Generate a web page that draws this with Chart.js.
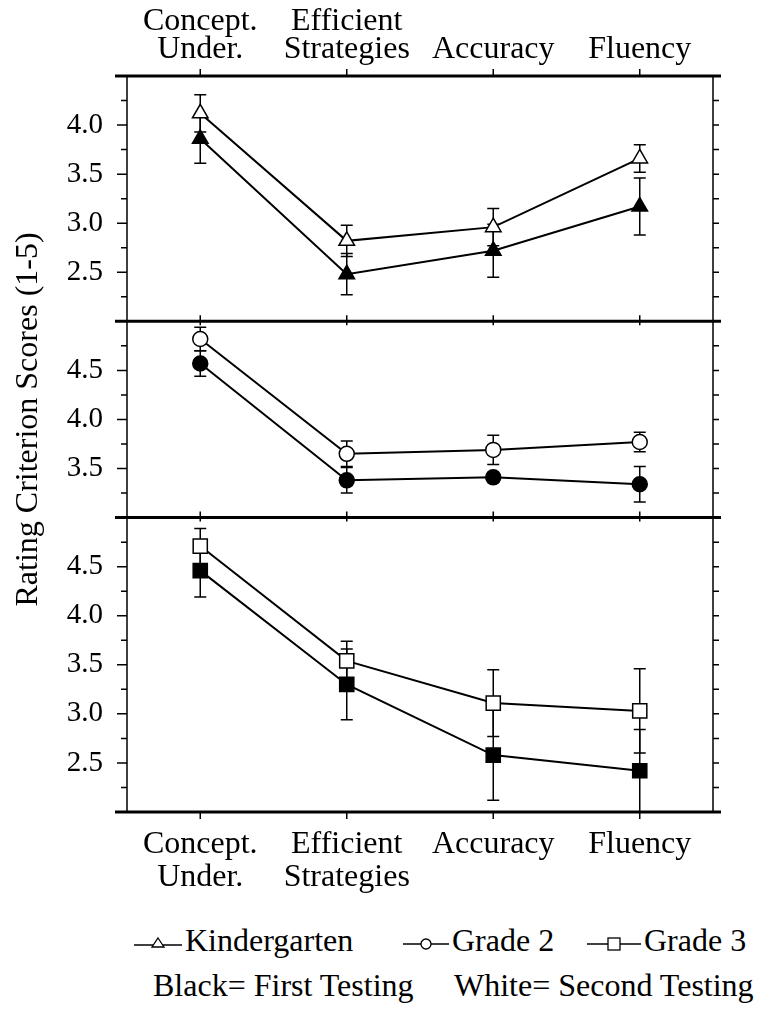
<!DOCTYPE html>
<html>
<head>
<meta charset="utf-8">
<script src="https://cdn.jsdelivr.net/npm/chart.js@4.4.0/dist/chart.umd.min.js"></script>
<style>
  html, body { margin: 0; padding: 0; background: #fff; }
  body { width: 757px; height: 1011px; position: relative; overflow: hidden; font-family: "Liberation Serif", serif; color: #000; }
  #wrap { position: absolute; left: 0; top: 0; width: 757px; height: 900px; }
  .row { position: absolute; font-size: 32px; line-height: 36px; white-space: nowrap; }
  .row svg { vertical-align: middle; margin-right: 3px; position: relative; top: -2px; }
</style>
</head>
<body>
<div id="wrap"><canvas id="scores"></canvas></div>

<div class="row" style="left:134px; top:922px;"><svg width="48" height="20"><line x1="0" y1="13" x2="48" y2="13" stroke="#000" stroke-width="1.5"/><polygon points="24,6 30,15 18,15" fill="#fff" stroke="#000" stroke-width="1.3"/></svg>Kindergarten</div>
<div class="row" style="left:403px; top:922px;"><svg width="46" height="20"><line x1="0" y1="12" x2="46" y2="12" stroke="#000" stroke-width="1.5"/><circle cx="23" cy="12" r="5" fill="#fff" stroke="#000" stroke-width="1.3"/></svg>Grade 2</div>
<div class="row" style="left:587px; top:922px;"><svg width="54" height="20"><line x1="0" y1="12" x2="54" y2="12" stroke="#000" stroke-width="1.5"/><rect x="21" y="6" width="12" height="12" fill="#fff" stroke="#000" stroke-width="1.3"/></svg>Grade 3</div>
<div class="row" style="left:153px; top:967px;">Black= First Testing</div>
<div class="row" style="left:454px; top:967px;">White= Second Testing</div>

<script>
const categories = [['Concept.', 'Under.'], ['Efficient', 'Strategies'], 'Accuracy', 'Fluency'];

// Kindergarten (triangles)
const kinderFirst = [3.86, 2.48, 2.72, 3.17];
const kinderFirstErr = [0.25, 0.21, 0.27, 0.29];
const kinderSecond = [4.12, 2.82, 2.96, 3.66];
const kinderSecondErr = [0.19, 0.16, 0.19, 0.14];

// Grade 2 (circles)
const grade2First = [4.57, 3.38, 3.41, 3.34];
const grade2FirstErr = [0.13, 0.13, 0.05, 0.18];
const grade2Second = [4.82, 3.65, 3.69, 3.77];
const grade2SecondErr = [0.12, 0.13, 0.15, 0.10];

// Grade 3 (squares)
const grade3First = [4.46, 3.30, 2.58, 2.42];
const grade3FirstErr = [0.27, 0.36, 0.46, 0.42];
const grade3Second = [4.71, 3.54, 3.11, 3.03];
const grade3SecondErr = [0.18, 0.20, 0.34, 0.43];

const panelMin = [2.0, 3.0, 2.0];
const panelMax = [4.5, 5.0, 5.0];
const tickLabels = ['2.5', '3.0', '3.5', '4.0', '4.5'];

const serif = 'Liberation Serif';

function series(data, err, yAxis, style, fill, radius) {
    return {
        data: data,
        errors: err,
        yAxisID: yAxis,
        xAxisID: 'x',
        borderColor: '#000',
        borderWidth: 2,
        pointStyle: style,
        pointRadius: radius,
        pointHoverRadius: radius,
        pointBackgroundColor: fill,
        pointBorderColor: '#000',
        pointBorderWidth: 1.5
    };
}

function yPanel(i, weight, withTitle) {
    return {
        type: 'linear',
        position: 'left',
        stack: 'panels',
        stackWeight: panelMax[i] - panelMin[i],
        weight: weight,
        min: panelMin[i],
        max: panelMax[i],
        grid: { display: false, drawTicks: false },
        border: { display: false },
        ticks: {
            stepSize: 0.25,
            autoSkip: false,
            padding: 24,
            color: '#000',
            font: { family: serif, size: 29 },
            callback: function (v) {
                const s = Number(v).toFixed(1);
                if (v <= panelMin[i] || v >= panelMax[i]) return '';
                if (Math.abs(v * 2 - Math.round(v * 2)) > 1e-6) return '';
                return tickLabels.includes(s) ? s : '';
            }
        },
        title: {
            display: withTitle,
            text: 'Rating Criterion Scores (1-5)',
            color: '#000',
            font: { family: serif, size: 32 },
            padding: { top: 9, bottom: 0 }
        },
        afterFit: function (s) { s.width = 127; }
    };
}

// symmetric error bars, drawn under the markers
const errorBars = {
    id: 'errorBars',
    beforeDatasetsDraw(chart) {
        const ctx = chart.ctx;
        ctx.save();
        ctx.strokeStyle = '#000';
        ctx.lineWidth = 1.5;
        chart.data.datasets.forEach((ds, di) => {
            const meta = chart.getDatasetMeta(di);
            const ys = chart.scales[ds.yAxisID];
            meta.data.forEach((pt, k) => {
                const e = ds.errors[k];
                const top = ys.getPixelForValue(ds.data[k] + e);
                const bot = ys.getPixelForValue(ds.data[k] - e);
                ctx.beginPath();
                ctx.moveTo(pt.x, top); ctx.lineTo(pt.x, bot);
                ctx.moveTo(pt.x - 6, top); ctx.lineTo(pt.x + 6, top);
                ctx.moveTo(pt.x - 6, bot); ctx.lineTo(pt.x + 6, bot);
                ctx.stroke();
            });
        });
        ctx.restore();
    }
};

// panel frames, tick marks on all sides
const panelFrame = {
    id: 'panelFrame',
    afterDraw(chart) {
        const ctx = chart.ctx;
        const a = chart.chartArea;
        const xs = chart.scales.x;
        const panels = ['y1', 'y2', 'y3'].map(id => chart.scales[id]);
        ctx.save();
        ctx.strokeStyle = '#000';
        ctx.lineWidth = 1.5;
        ctx.beginPath();
        ctx.moveTo(a.left, a.top); ctx.lineTo(a.left, a.bottom);
        ctx.moveTo(a.right, a.top); ctx.lineTo(a.right, a.bottom);
        ctx.stroke();

        // y ticks
        panels.forEach(s => {
            s.ticks.forEach(t => {
                if (t.value <= s.min || t.value >= s.max) return;
                const y = s.getPixelForValue(t.value);
                const major = Math.abs(t.value * 2 - Math.round(t.value * 2)) < 1e-6;
                ctx.beginPath();
                ctx.moveTo(a.left - (major ? 10 : 6), y); ctx.lineTo(a.left, y);
                ctx.moveTo(a.right, y); ctx.lineTo(a.right + 6, y);
                ctx.stroke();
            });
        });

        // x ticks at each category
        const edges = [a.top, panels[0].bottom, panels[1].bottom, a.bottom];
        xs.ticks.forEach((t, k) => {
            const x = xs.getPixelForTick(k);
            ctx.beginPath();
            ctx.moveTo(x, a.top - 7); ctx.lineTo(x, a.top);
            ctx.moveTo(x, edges[1] - 6); ctx.lineTo(x, edges[1] + 4);
            ctx.moveTo(x, edges[2] - 6); ctx.lineTo(x, edges[2] + 4);
            ctx.moveTo(x, a.bottom); ctx.lineTo(x, a.bottom + 7);
            ctx.stroke();
        });

        // heavy horizontal rules
        ctx.lineWidth = 3;
        ctx.beginPath();
        edges.forEach(y => { ctx.moveTo(a.left - 12, y); ctx.lineTo(a.right + 8, y); });
        ctx.stroke();
        ctx.restore();
    }
};

const config = {
    type: 'line',
    data: {
        labels: categories,
        datasets: [
            series(kinderFirst, kinderFirstErr, 'y1', 'triangle', '#000', 9),
            series(kinderSecond, kinderSecondErr, 'y1', 'triangle', '#fff', 9),
            series(grade2First, grade2FirstErr, 'y2', 'circle', '#000', 7.5),
            series(grade2Second, grade2SecondErr, 'y2', 'circle', '#fff', 7.5),
            series(grade3First, grade3FirstErr, 'y3', 'rect', '#000', 10),
            series(grade3Second, grade3SecondErr, 'y3', 'rect', '#fff', 10)
        ]
    },
    options: {
        responsive: false,
        animation: false,
        events: [],
        layout: { padding: { left: 0, right: 44, top: 0, bottom: 0 } },
        plugins: {
            legend: { display: false },
            tooltip: { enabled: false }
        },
        scales: {
            x: {
                type: 'category',
                position: 'bottom',
                offset: true,
                grid: { display: false, drawTicks: false },
                border: { display: false },
                ticks: {
                    padding: 16,
                    color: '#000',
                    maxRotation: 0,
                    font: { family: serif, size: 32, lineHeight: 1.03 }
                },
                afterFit: function (s) { s.height = 88; }
            },
            x2: {
                type: 'category',
                position: 'top',
                offset: true,
                labels: categories,
                grid: { display: false, drawTicks: false },
                border: { display: false },
                ticks: {
                    padding: 12,
                    color: '#000',
                    maxRotation: 0,
                    font: { family: serif, size: 32, lineHeight: 0.88 }
                },
                afterFit: function (s) { s.height = 76; }
            },
            y1: yPanel(0, 3, false),
            y2: yPanel(1, 2, true),
            y3: yPanel(2, 1, false)
        }
    },
    plugins: [errorBars, panelFrame]
};

const canvas = document.getElementById('scores');
canvas.width = 757;
canvas.height = 900;
new Chart(canvas.getContext('2d'), config);
</script>
</body>
</html>
